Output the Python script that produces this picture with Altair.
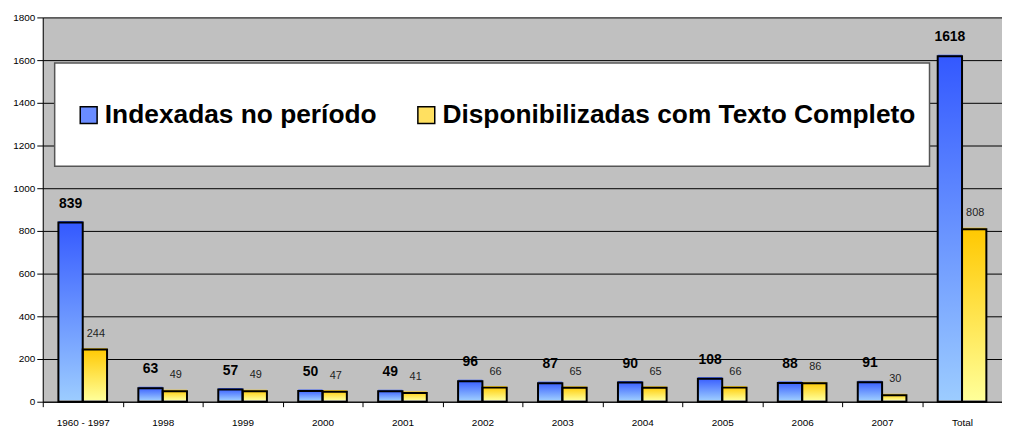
import altair as alt
import pandas as pd

categories = ["1960 - 1997", "1998", "1999", "2000", "2001", "2002", "2003",
              "2004", "2005", "2006", "2007", "Total"]
indexadas = [839, 63, 57, 50, 49, 96, 87, 90, 108, 88, 91, 1618]
disponibilizadas = [244, 49, 49, 47, 41, 66, 65, 65, 66, 86, 30, 808]
series = ["Indexadas no período", "Disponibilizadas com Texto Completo"]
y_ticks = list(range(0, 1801, 200))

rows = []
for c, a, b in zip(categories, indexadas, disponibilizadas):
    rows.append({"cat": c, "serie": series[0], "valor": a})
    rows.append({"cat": c, "serie": series[1], "valor": b})
df = pd.DataFrame(rows)

FONT = "Liberation Sans"

blue_grad = {"gradient": "linear", "x1": 0, "y1": 0, "x2": 0, "y2": 1,
             "stops": [{"offset": 0, "color": "#3358FF"},
                       {"offset": 1, "color": "#9CCCFF"}]}
yellow_grad = {"gradient": "linear", "x1": 0, "y1": 0, "x2": 0, "y2": 1,
               "stops": [{"offset": 0, "color": "#FFC800"},
                         {"offset": 1, "color": "#FFFF99"}]}

x_enc = alt.X("cat:N", sort=categories,
              scale=alt.Scale(paddingInner=0, paddingOuter=0),
              axis=alt.Axis(title=None, labelAngle=0, labelFont=FONT,
                            labelFontSize=10, labelColor="black",
                            domainColor="black", domainWidth=1,
                            tickColor="black", tickSize=5, tickBand="extent",
                            labelPadding=11, grid=False))
xo_enc = alt.XOffset("serie:N", sort=series,
                     scale=alt.Scale(domain=series, paddingInner=0, paddingOuter=0.643))
y_enc = alt.Y("valor:Q",
              scale=alt.Scale(domain=[0, 1800], nice=False),
              axis=alt.Axis(title=None, values=y_ticks, format="d", labelFont=FONT,
                            labelFontSize=10, labelColor="black",
                            domainColor="black", tickColor="black", tickSize=6,
                            labelPadding=2, grid=True, gridColor="black",
                            gridWidth=1, gridOpacity=1))

base = alt.Chart(df).encode(x=x_enc, xOffset=xo_enc, y=y_enc)

legend_box = alt.Chart(pd.DataFrame({"k": [0]})).mark_rect(
    fill="white", stroke="#555555", strokeWidth=1.5
).encode(x=alt.value(12), x2=alt.value(893), y=alt.value(46), y2=alt.value(150))

blue_bar = base.transform_filter(alt.datum.serie == series[0]).mark_bar(
    fill=blue_grad, xOffset=-1.5, yOffset=-1.5)
yellow_bar = base.transform_filter(alt.datum.serie == series[1]).mark_bar(
    fill=yellow_grad, xOffset=-1.5, yOffset=-1.5)
outline = base.mark_bar(fillOpacity=0, stroke="black", strokeWidth=2)

blue_lbl = base.transform_filter(alt.datum.serie == series[0]).mark_text(
    font=FONT, fontSize=14, fontWeight="bold", color="black",
    baseline="alphabetic", dy=-15).encode(text="valor:Q")
yellow_lbl = base.transform_filter(alt.datum.serie == series[1]).mark_text(
    font=FONT, fontSize=11, color="#222222",
    baseline="alphabetic", dy=-13, dx=1).encode(text="valor:Q")

legend_layer = base.mark_point(opacity=0, shape="square", filled=True).encode(
    color=alt.Color("serie:N",
                    scale=alt.Scale(domain=series, range=["#6A8CFF", "#FFE060"]),
                    legend=alt.Legend(orient="none", legendX=33, legendY=85,
                                      direction="horizontal", title=None,
                                      labelFont=FONT, labelFontSize=26.5,
                                      labelFontWeight="bold", labelColor="black",
                                      symbolType="square", symbolSize=289,
                                      symbolStrokeColor="black",
                                      symbolStrokeWidth=1.5, symbolOpacity=1,
                                      labelOffset=3, columnPadding=36,
                                      padding=0, labelLimit=1000)))

chart = alt.layer(
    legend_box, blue_bar, yellow_bar, outline, blue_lbl, yellow_lbl, legend_layer
).properties(
    width=966, height=387,
    autosize=alt.AutoSizeParams(type="none"),
    padding={"left": 35, "top": 8, "right": 0, "bottom": 26},
    background="white",
).configure_view(fill="#C0C0C0", stroke=None)

chart.save("out.html", embed_options={"renderer": "svg", "actions": False})
